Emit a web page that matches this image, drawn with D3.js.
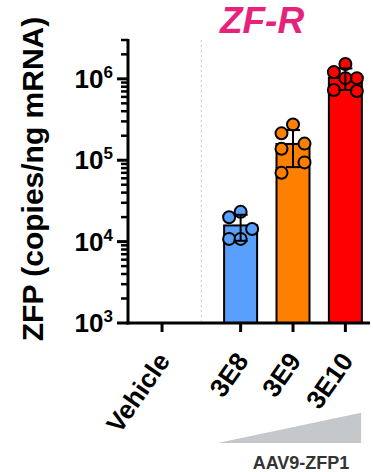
<!DOCTYPE html>
<html>
<head>
<meta charset="utf-8">
<script src="https://cdn.jsdelivr.net/npm/d3@7"></script>
<style>
  body { margin: 0; background: #fff; }
  svg { display: block; font-family: "Liberation Sans", Arial, sans-serif; }
</style>
</head>
<body>
<div id="chart"></div>
<script>
"use strict";

// groups on the x axis (Vehicle has no detectable ZFP)
var categories = ["Vehicle", "3E8", "3E9", "3E10"];
var barColors = ["#ffffff", "#58a0fb", "#ff8000", "#ff0000"];

// copies/ng mRNA, one value per animal
var vehicleValues = [];
var dose3E8Values = [23200, 19900, 14300, 10800, 10800];
var dose3E9Values = [275000, 214000, 160000, 138000, 94000, 70000];
var dose3E10Values = [1520000, 1210000, 1020000, 1020000, 730000, 710000];

var yDomain = [1e3, 3e6];

var groups = [vehicleValues, dose3E8Values, dose3E9Values, dose3E10Values].map(function (vals, i) {
    return {
        name: categories[i],
        color: barColors[i],
        values: vals,
        slot: i + (i > 0 ? 0.5 : 0), // gap between vehicle and the dose groups
        mean: vals.length ? d3.mean(vals) : null,
        sd: vals.length > 1 ? d3.deviation(vals) : 0
    };
});

var width = 373, height = 472;
var axisX = 128, axisY = 323, topY = 40, rightX = 370;

var svg = d3.select("#chart").append("svg")
    .attr("width", width)
    .attr("height", height);

//scales
var x = d3.scaleLinear().domain([-0.65, 3.97]).range([axisX, rightX]);
var slotW = x(1) - x(0);
var barW = slotW * 0.63;
var y = d3.scaleLog().domain(yDomain).range([axisY, topY]);

//title
svg.append("text")
    .attr("x", 262)
    .attr("y", 33)
    .attr("text-anchor", "middle")
    .attr("font-size", 37)
    .attr("font-weight", "bold")
    .attr("font-style", "italic")
    .attr("fill", "#e5237b")
    .text("ZF-R");

//dotted divider between vehicle and dose groups
svg.append("line")
    .attr("x1", x(0.75)).attr("x2", x(0.75))
    .attr("y1", topY).attr("y2", axisY - 2)
    .attr("stroke", "#c8c8c8")
    .attr("stroke-width", 1)
    .attr("stroke-dasharray", "2,3");

var dataGroups = groups.filter(function (g) { return g.values.length; });

//bars
svg.append("g").selectAll("rect")
    .data(dataGroups)
    .enter().append("rect")
    .attr("x", function (d) { return x(d.slot) - barW / 2; })
    .attr("y", function (d) { return y(d.mean); })
    .attr("width", barW)
    .attr("height", function (d) { return axisY - y(d.mean); })
    .attr("fill", function (d) { return d.color; })
    .attr("stroke", "#000")
    .attr("stroke-width", 2);

//scatter points, spread sideways so they don't sit on top of each other
var r = 6, step = 11.5;
function swarm(g) {
    var placed = [];
    g.values.forEach(function (v) {
        var py = y(v);
        var best = 0, bestDist = -1;
        [0, -step, step].forEach(function (off) {
            var dmin = Infinity;
            placed.forEach(function (p) {
                var dd = Math.hypot(p.off - off, p.py - py);
                if (dd < dmin) dmin = dd;
            });
            if (dmin > bestDist + 1e-9) { bestDist = dmin; best = off; }
        });
        placed.push({ off: best, py: py, cx: x(g.slot) + best, color: g.color });
    });
    return placed;
}

var points = [];
dataGroups.forEach(function (g) { points = points.concat(swarm(g)); });

svg.append("g").selectAll("circle")
    .data(points)
    .enter().append("circle")
    .attr("cx", function (d) { return d.cx; })
    .attr("cy", function (d) { return d.py; })
    .attr("r", r)
    .attr("fill", function (d) { return d.color; })
    .attr("stroke", "#000")
    .attr("stroke-width", 2);

//error bars (mean +/- SD)
var err = svg.append("g").selectAll("g")
    .data(dataGroups)
    .enter().append("g")
    .attr("stroke", "#000")
    .attr("stroke-width", 2);

err.append("line")
    .attr("x1", function (d) { return x(d.slot); })
    .attr("x2", function (d) { return x(d.slot); })
    .attr("y1", function (d) { return y(d.mean - d.sd); })
    .attr("y2", function (d) { return y(d.mean + d.sd); });
[-1, 1].forEach(function (sign) {
    err.append("line")
        .attr("x1", function (d) { return x(d.slot) - 7; })
        .attr("x2", function (d) { return x(d.slot) + 7; })
        .attr("y1", function (d) { return y(d.mean + sign * d.sd); })
        .attr("y2", function (d) { return y(d.mean + sign * d.sd); });
});

//y axis, ticks from the log scale
var yTicks = y.ticks();
function isMajor(t) { return Math.abs(Math.log10(t) - Math.round(Math.log10(t))) < 1e-6; }

var yAxis = svg.append("g");
yAxis.append("line")
    .attr("x1", axisX).attr("x2", axisX)
    .attr("y1", topY - 1).attr("y2", axisY + 1.5)
    .attr("stroke", "#000").attr("stroke-width", 3);
yAxis.selectAll("line.tick")
    .data(yTicks)
    .enter().append("line")
    .attr("class", "tick")
    .attr("x1", function (d) { return axisX - (isMajor(d) ? 11 : 7); })
    .attr("x2", axisX)
    .attr("y1", function (d) { return y(d); })
    .attr("y2", function (d) { return y(d); })
    .attr("stroke", "#000")
    .attr("stroke-width", function (d) { return isMajor(d) ? 3 : 2.5; });

var yLabels = yAxis.selectAll("text")
    .data(yTicks.filter(isMajor))
    .enter().append("text")
    .attr("x", axisX - 15)
    .attr("y", function (d) { return y(d) + 9; })
    .attr("text-anchor", "end")
    .attr("font-weight", "bold")
    .attr("font-size", 26)
    .attr("fill", "#000");
yLabels.append("tspan").text("10");
yLabels.append("tspan")
    .attr("font-size", 17)
    .attr("dy", -10)
    .text(function (d) { return Math.round(Math.log10(d)); });

svg.append("text")
    .attr("transform", "translate(43," + 179 + ") rotate(-90)")
    .attr("text-anchor", "middle")
    .attr("font-weight", "bold")
    .attr("font-size", 30)
    .attr("fill", "#000")
    .text("ZFP (copies/ng mRNA)");

//x axis
var xAxis = svg.append("g");
xAxis.append("line")
    .attr("x1", axisX - 1.5).attr("x2", rightX)
    .attr("y1", axisY).attr("y2", axisY)
    .attr("stroke", "#000").attr("stroke-width", 3);
xAxis.selectAll("line.tick")
    .data(groups)
    .enter().append("line")
    .attr("class", "tick")
    .attr("x1", function (d) { return x(d.slot); })
    .attr("x2", function (d) { return x(d.slot); })
    .attr("y1", axisY)
    .attr("y2", axisY + 9)
    .attr("stroke", "#000").attr("stroke-width", 3);
xAxis.selectAll("text")
    .data(groups)
    .enter().append("text")
    .attr("transform", function (d) { return "translate(" + (x(d.slot) + 9) + "," + 361 + ") rotate(-55)"; })
    .attr("text-anchor", "end")
    .attr("font-weight", "bold")
    .attr("font-size", 26)
    .attr("fill", "#000")
    .text(function (d) { return d.name; });

//dose wedge
var wedgeL = x(1.5) - slotW * 0.44, wedgeR = x(3.5) + slotW * 0.3;
svg.append("path")
    .attr("d", "M" + wedgeL + ",443L" + wedgeR + ",443L" + wedgeR + ",412.7Z")
    .attr("fill", "#c5c8ca");
svg.append("text")
    .attr("x", 301)
    .attr("y", 469)
    .attr("text-anchor", "middle")
    .attr("font-weight", "bold")
    .attr("font-size", 18)
    .attr("fill", "#333")
    .text("AAV9-ZFP1");
</script>
</body>
</html>
